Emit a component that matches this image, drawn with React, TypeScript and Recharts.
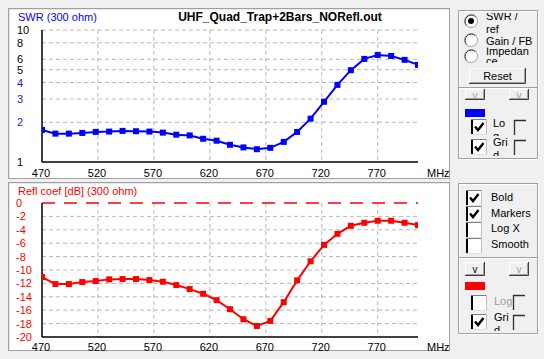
import React from 'react';
import { LineChart, Line, XAxis, YAxis, CartesianGrid, ReferenceLine } from 'recharts';

const freqMHz = [470, 482, 494, 506, 518, 530, 542, 554, 566, 578, 590, 602, 614, 626, 638, 650, 662, 674, 686, 698, 710, 722, 734, 746, 758, 770, 782, 794, 806];
const swr = [1.75, 1.64, 1.64, 1.66, 1.69, 1.7, 1.72, 1.71, 1.7, 1.67, 1.61, 1.59, 1.5, 1.45, 1.35, 1.29, 1.25, 1.28, 1.42, 1.69, 2.13, 2.86, 3.84, 4.96, 6.04, 6.47, 6.36, 5.94, 5.44];
const reflDb = [-11.05, -12.1, -12.1, -11.8, -11.65, -11.4, -11.35, -11.35, -11.5, -11.75, -12.25, -12.85, -13.55, -14.5, -15.85, -17.35, -18.35, -17.6, -14.8, -11.55, -8.7, -6.25, -4.6, -3.4, -2.95, -2.65, -2.65, -2.95, -3.3];

const xTicks = [470, 520, 570, 620, 670, 720, 770];
const swrTicks = [1, 2, 3, 4, 5, 6, 8, 10];
const reflTicks = [-20, -18, -16, -14, -12, -10, -8, -6, -4, -2, 0];

const data = freqMHz.map((f, i) => ({ f, swr: swr[i], refl: reflDb[i] }));

const FONT = '"Liberation Sans", Arial, sans-serif';
const BLUE = '#0000ff';
const RED = '#ff0000';

const squareDot = (color: string) => (props: any) => {
  const { cx, cy, index } = props;
  if (cx == null || cy == null) return <g key={`d-${index}`} />;
  return <rect key={`d-${index}`} x={cx - 3} y={cy - 3} width={6} height={6} fill={color} />;
};

const xTick = (baseline: number) => (props: any) => {
  const { x, payload } = props;
  return (
    <text x={x - 1} y={baseline} textAnchor="middle" fontSize={11} fontFamily={FONT} fill="#000">
      {payload.value}
    </text>
  );
};

const swrTick = (props: any) => {
  const { y, payload } = props;
  const v = payload.value;
  const c = v >= 2 && v <= 4 ? '#1a1acc' : '#000';
  return (
    <text x={17} y={y + 4} textAnchor="start" fontSize={11} fontFamily={FONT} fill={c}>
      {v}
    </text>
  );
};

const reflTick = (props: any) => {
  const { y, payload } = props;
  return (
    <text x={16} y={y + 4} textAnchor="start" fontSize={11} fontFamily={FONT} fill={RED}>
      {payload.value}
    </text>
  );
};

function Group({ x, y, w, h }: { x: number; y: number; w: number; h: number }) {
  return (
    <g>
      <rect x={x + 1.5} y={y + 1.5} width={w - 1} height={h - 1} fill="none" stroke="#fff" />
      <rect x={x + 0.5} y={y + 0.5} width={w - 1} height={h - 1} fill="none" stroke="#a0a0a0" />
    </g>
  );
}

function Btn({ x, y, w, h, label, disabled, size = 11 }: any) {
  return (
    <g>
      <rect x={x} y={y} width={w} height={h} fill="#f0f0f0" />
      <path d={`M${x + 0.5} ${y + h} V${y + 0.5} H${x + w}`} stroke="#fff" fill="none" />
      <path d={`M${x} ${y + h - 0.5} H${x + w - 0.5} V${y}`} stroke="#404040" fill="none" />
      <path d={`M${x + 1} ${y + h - 1.5} H${x + w - 1.5} V${y + 1}`} stroke="#a0a0a0" fill="none" />
      <text x={x + w / 2} y={y + h / 2 + 4} textAnchor="middle" fontSize={size} fontFamily={FONT} fill={disabled ? '#a0a0a0' : '#000'}>
        {label}
      </text>
    </g>
  );
}

function Check({ x, y, checked }: { x: number; y: number; checked: boolean }) {
  return (
    <g>
      <rect x={x} y={y} width={16} height={16} fill="#fff" />
      <path d={`M${x + 1} ${y + 16} V${y}`} stroke="#000" strokeWidth={2} fill="none" />
      <path d={`M${x} ${y + 0.5} H${x + 16}`} stroke="#808080" fill="none" />
      <path d={`M${x + 15.5} ${y} V${y + 16}`} stroke="#c0c0c0" fill="none" />
      <path d={`M${x} ${y + 15.5} H${x + 16}`} stroke="#e0e0e0" fill="none" />
      {checked && (
        <path d={`M${x + 4} ${y + 7.5} L${x + 7} ${y + 11} L${x + 12.5} ${y + 4}`} stroke="#000" strokeWidth={2.4} fill="none" />
      )}
    </g>
  );
}

function Bracket({ x, y }: { x: number; y: number }) {
  return <path d={`M${x + 0.5} ${y + 15} V${y + 0.5} H${x + 12}`} stroke="#303030" strokeWidth={1.3} fill="none" />;
}

function Radio({ cx, cy, on }: { cx: number; cy: number; on: boolean }) {
  return (
    <g>
      <circle cx={cx} cy={cy} r={6.5} fill="#fff" stroke="#a0a0a0" />
      <path d={`M${cx - 4.5} ${cy + 4.5} A6.4 6.4 0 0 1 ${cx + 4.5} ${cy - 4.5}`} stroke="#404040" fill="none" />
      {on && <circle cx={cx} cy={cy} r={3} fill="#000" />}
    </g>
  );
}

function Controls() {
  const t = { fontSize: 11, fontFamily: FONT, fill: '#000' } as const;
  return (
    <svg width={544} height={359} style={{ position: 'absolute', left: 0, top: 0, pointerEvents: 'none' }}>
      <defs>
        <clipPath id="c1"><rect x={484} y={13} width={52} height={22} /></clipPath>
        <clipPath id="c2"><rect x={484} y={35} width={52} height={12} /></clipPath>
        <clipPath id="c3"><rect x={484} y={47.5} width={52} height={15.5} /></clipPath>
        <clipPath id="c4"><rect x={490} y={118} width={22} height={18} /></clipPath>
        <clipPath id="c5"><rect x={490} y={138} width={22} height={18} /></clipPath>
        <clipPath id="c6"><rect x={490} y={312} width={22} height={19} /></clipPath>
      </defs>

      {/* chart captions */}
      <text x={18} y={21} fontSize={11} fontFamily={FONT} fill={BLUE}>SWR (300 ohm)</text>
      <text x={280} y={21} textAnchor="middle" fontSize={12} fontWeight="bold" fontFamily={FONT} fill="#000">
        UHF_Quad_Trap+2Bars_NORefl.out
      </text>
      <text x={427} y={177} fontSize={11} fontFamily={FONT} fill="#000">MHz</text>
      <text x={18} y={195} fontSize={11} fontFamily={FONT} fill={RED}>Refl coef [dB] (300 ohm)</text>
      <text x={427} y={351} fontSize={11} fontFamily={FONT} fill="#000">MHz</text>

      {/* box 1 */}
      <Group x={458} y={10} w={80} h={78} />
      <Radio cx={471} cy={21} on />
      <Radio cx={471} cy={40} on={false} />
      <Radio cx={471} cy={56} on={false} />
      <g clipPath="url(#c1)">
        <text x={486} y={20} {...t}>SWR /</text>
        <text x={486} y={33} {...t}>ref</text>
      </g>
      <g clipPath="url(#c2)">
        <text x={486} y={45} {...t}>Gain / FB</text>
      </g>
      <g clipPath="url(#c3)">
        <text x={486} y={54.5} {...t}>Impedan</text>
        <text x={486} y={65} {...t}>ce</text>
      </g>
      <Btn x={469} y={68} w={57} h={16} label="Reset" />

      {/* box 2 */}
      <Group x={458} y={87} w={80} h={72} />
      <Btn x={465} y={89} w={20} h={11} label="v" disabled size={10} />
      <Btn x={509} y={89} w={20} h={11} label="v" disabled size={10} />
      <rect x={465} y={109} width={20} height={8} fill={BLUE} />
      <Check x={471} y={119} checked />
      <Check x={471} y={139} checked />
      <g clipPath="url(#c4)">
        <text x={493} y={127} {...t}>Lo</text>
        <text x={493} y={140} {...t}>g</text>
      </g>
      <g clipPath="url(#c5)">
        <text x={493} y={146} {...t}>Gri</text>
        <text x={493} y={159} {...t}>d</text>
      </g>
      <Bracket x={514} y={120} />
      <Bracket x={514} y={140} />

      {/* box 3 */}
      <Group x={458} y={183} w={80} h={75} />
      <Check x={466} y={190} checked />
      <Check x={466} y={206} checked />
      <Check x={466} y={222} checked={false} />
      <Check x={466} y={238} checked={false} />
      <text x={491} y={201} {...t}>Bold</text>
      <text x={491} y={217} {...t}>Markers</text>
      <text x={491} y={232} {...t}>Log X</text>
      <text x={491} y={248} {...t}>Smooth</text>

      {/* box 4 */}
      <Group x={458} y={257} w={80} h={77} />
      <Btn x={465} y={262} w={20} h={14} label="v" size={10} />
      <Btn x={509} y={262} w={20} h={14} label="v" disabled size={10} />
      <rect x={465} y={282} width={20} height={8} fill={RED} />
      <Check x={471} y={295} checked={false} />
      <Check x={471} y={314} checked />
      <text x={494} y={305} {...t} fill="#a0a0a0">Log</text>
      <g clipPath="url(#c6)">
        <text x={494} y={321} {...t}>Gri</text>
        <text x={494} y={334} {...t}>d</text>
      </g>
      <Bracket x={513} y={295} />
      <Bracket x={513} y={315} />
    </svg>
  );
}

const panelStyle: React.CSSProperties = {
  position: 'absolute',
  left: 8,
  width: 442,
  background: '#fff',
  border: '1px solid #a0a0a0',
  boxShadow: 'inset 1px 1px 0 #e8e8e8',
  boxSizing: 'border-box',
};

export default function App() {
  return (
    <div style={{ position: 'absolute', left: 0, top: 0, width: 544, height: 359, background: '#f0f0f0', overflow: 'hidden', fontFamily: FONT }}>
      <div style={{ ...panelStyle, top: 8, height: 171 }} />
      <div style={{ ...panelStyle, top: 182, height: 169 }} />

      <div style={{ position: 'absolute', left: 0, top: 0 }}>
        <LineChart width={450} height={180} data={data} margin={{ top: 30, right: 32, bottom: 6, left: 0 }}>
          <CartesianGrid
            stroke="#b8b8b8"
            strokeDasharray="4 3"
            horizontalValues={[2, 3, 4, 5, 6, 8, 10]}
            verticalValues={[520, 570, 620, 670, 720, 770]}
          />
          <XAxis
            dataKey="f"
            type="number"
            domain={[470, 806]}
            ticks={xTicks}
            interval={0}
            height={12}
            tickLine={false}
            axisLine={{ stroke: '#000', strokeWidth: 1.5 }}
            tick={xTick(177)}
            allowDataOverflow
          />
          <YAxis
            type="number"
            scale="log"
            domain={[1, 10]}
            ticks={swrTicks}
            interval={0}
            width={42}
            tickLine={false}
            axisLine={{ stroke: '#000', strokeWidth: 1.5 }}
            tick={swrTick}
            allowDataOverflow
          />
          <Line dataKey="swr" type="linear" stroke={BLUE} strokeWidth={2} dot={squareDot(BLUE)} isAnimationActive={false} />
        </LineChart>
      </div>

      <div style={{ position: 'absolute', left: 0, top: 180 }}>
        <LineChart width={450} height={172} data={data} margin={{ top: 23, right: 32, bottom: 3, left: 0 }}>
          <CartesianGrid
            stroke="#b8b8b8"
            strokeDasharray="4 3"
            horizontalValues={[-18, -16, -14, -12, -10, -8, -6, -4, -2]}
            verticalValues={[520, 570, 620, 670, 720, 770]}
          />
          <ReferenceLine y={0} stroke={RED} strokeDasharray="13 9" strokeWidth={1.5} />
          <XAxis
            dataKey="f"
            type="number"
            domain={[470, 806]}
            ticks={xTicks}
            interval={0}
            height={12}
            tickLine={false}
            axisLine={{ stroke: '#000', strokeWidth: 1.5 }}
            tick={xTick(171)}
            allowDataOverflow
          />
          <YAxis
            type="number"
            domain={[-20, 0]}
            ticks={reflTicks}
            interval={0}
            width={42}
            tickLine={false}
            axisLine={{ stroke: '#000', strokeWidth: 1.5 }}
            tick={reflTick}
            allowDataOverflow
          />
          <Line dataKey="refl" type="linear" stroke={RED} strokeWidth={2} dot={squareDot(RED)} isAnimationActive={false} />
        </LineChart>
      </div>

      <Controls />
    </div>
  );
}
